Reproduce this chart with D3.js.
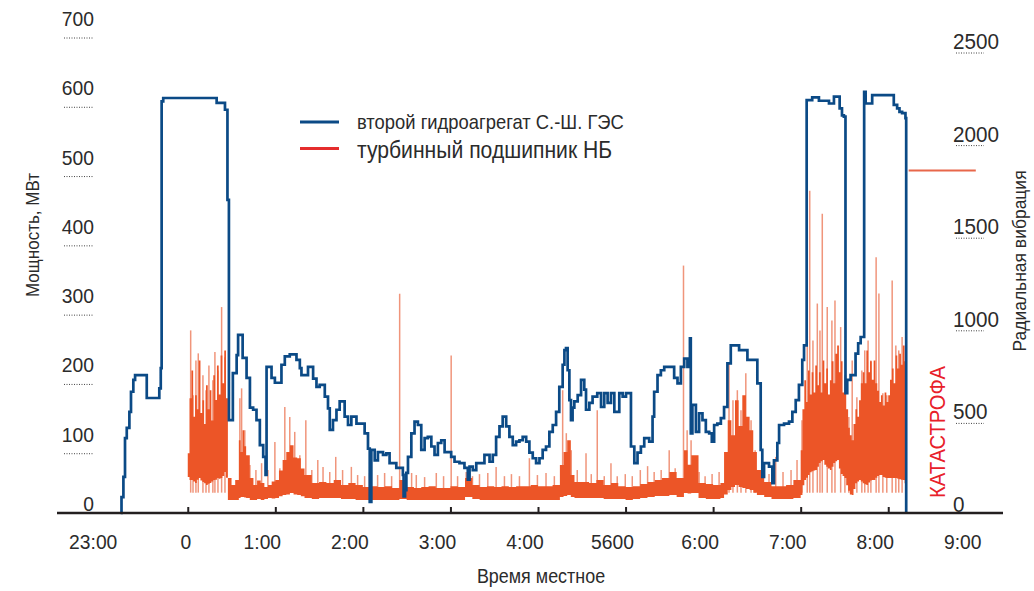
<!DOCTYPE html>
<html>
<head>
<meta charset="utf-8">
<script src="https://cdn.jsdelivr.net/npm/d3@7"></script>
<style>
body { margin: 0; background: #fff; }
text { font-family: "Liberation Sans", Arial, sans-serif; fill: #2b2b2b; }
</style>
</head>
<body>
<div id="chart"></div>
<script>
// time is in minutes from midnight (negative = before 0:00)

// unit 2 power, MW  [minute, MW] - step line
var powerSeries = [
  [-45.9,0],[-45.4,23],[-44.1,52],[-43.0,108],[-41.8,123],[-40.0,146],[-38.9,175],[-37.3,192],[-36.1,199],
  [-28.1,166],[-19.5,180],[-18.5,209],[-17.9,594],[-16.8,599],[19.8,592],[25.5,582],[27.2,452],[28.2,134],
  [30.9,202],[33.5,228],[34.5,257],[37.6,224],[40.3,195],[42.6,152],[44.8,149],[47.1,134],[49.4,98],[51.7,81],
  [53.3,55],[54.0,211],[57.4,195],[59.7,188],[64.2,214],[66.5,226],[69.9,229],[74.5,221],[76.8,209],[77.9,199],
  [82.4,211],[85.9,194],[88.2,182],[90.4,185],[93.9,168],[96.1,151],[97.3,120],[99.5,134],[101.9,149],[104.1,161],
  [107.5,139],[109.8,127],[112.1,139],[115.6,129],[121.2,115],[123.5,93],[124.7,16],[125.8,91],[128.1,76],
  [130.3,88],[133.8,84],[136.1,86],[138.3,72],[142.9,65],[147.4,55],[147.9,24],[148.9,33],[149.8,58],[150.9,81],
  [153.2,115],[155.4,132],[157.7,127],[160.0,91],[162.3,108],[164.5,110],[166.9,96],[169.1,84],[171.4,101],
  [173.7,105],[176.0,88],[180.5,81],[182.8,74],[186.2,72],[189.6,65],[191.9,48],[193.1,67],[195.3,62],[197.7,72],
  [203.3,84],[206.8,74],[209.0,84],[211.3,110],[213.6,125],[215.8,139],[218.2,125],[220.4,110],[222.7,98],
  [225.0,103],[227.3,105],[229.5,110],[231.9,103],[234.1,87],[236.4,79],[238.7,72],[241.0,79],[243.2,91],
  [245.5,96],[247.8,117],[250.1,127],[252.4,146],[254.6,182],[256.9,214],[258.1,235],[259.2,238],[260.3,206],
  [261.5,163],[262.6,134],[263.7,152],[264.9,161],[267.2,170],[269.5,192],[271.7,178],[272.9,149],[275.2,159],
  [277.4,168],[280.6,173],[283.2,153],[285.4,173],[287.7,159],[290.0,173],[292.3,146],[295.7,173],[298.0,168],
  [300.3,173],[303.7,96],[306.0,72],[308.2,87],[310.5,96],[312.8,108],[316.2,103],[318.5,139],[319.6,175],
  [321.9,199],[324.2,206],[326.5,211],[333.3,195],[335.6,187],[337.9,211],[340.2,223],[342.4,211],[344.1,252],
  [344.7,115],[345.8,156],[348.2,117],[350.4,144],[352.7,134],[355.0,117],[357.3,115],[359.1,103],[360.7,127],
  [362.9,129],[365.3,137],[367.5,153],[369.8,216],[372.1,242],[377.8,235],[383.5,221],[390.3,187],[392.6,91],
  [393.7,52],[394.9,72],[398.3,67],[400.6,43],[401.7,76],[404.0,101],[405.2,127],[408.6,129],[412.0,132],
  [414.3,146],[416.6,163],[418.8,185],[421.1,221],[422.3,242],[424.1,596],[427.9,600],[432.5,595],[439.4,591],
  [442.8,601],[446.7,584],[448.3,574],[449.6,572],[450.7,173],[451.9,192],[454.2,199],[457.6,230],[459.4,245],
  [461.1,254],[463.5,608],[464.5,591],[469.0,603],[483.8,589],[486.1,584],[487.7,579],[489.5,577],[491.8,570],
  [492.3,0]
];

// lower bearing radial vibration: dense band [minute, low, high]
var vibBand = [
  [0,194,323],[1.2,178,620],[2.5,178,770],[3.7,170,520],[5,162,636],[6.2,180,560],[7.5,189,824],[8.7,175,540],
  [10,167,609],[11.2,160,480],[12.5,151,690],[13.7,158,560],[15,162,663],[16.2,170,500],[17.5,178,744],
  [18.7,180,610],[20,189,797],[21.2,185,640],[22.5,189,851],[23.7,200,700],[25,221,878],[26.2,190,620],
  [27.5,70,189],[30,70,151],[32.5,70,178],[35,81,393],[36.2,86,330],[37.5,86,447],[38.7,84,360],
  [40,81,312],[42.5,70,189],[45,70,151],[47.5,75,175],[50,70,162],[52.5,75,140],[55,81,151],[57.5,78,170],
  [60,81,178],[62.5,90,230],[65,97,286],[67.5,100,330],[70,108,366],[72.5,100,300],[75,97,296],[77.5,90,240],
  [80,81,205],[85,75,162],[90,81,167],[95,81,162],[100,81,178],[105,75,151],[110,75,162],[115,70,151],[120,70,140],
  [125,70,145],[130,70,140],[135,70,145],[140,70,135],[145,75,178],[150,70,140],[155,70,135],[160,70,140],
  [165,70,145],[170,70,135],[175,70,135],[180,70,145],[185,70,140],[190,86,189],[195,75,151],[200,70,140],
  [205,70,145],[210,70,140],[215,70,145],[220,70,140],[225,70,145],[230,70,145],[235,70,151],[240,70,145],
  [245,70,145],[250,70,151],[255,86,259],[257.5,92,330],[260,97,393],[262.5,86,205],[265,81,167],[270,81,167],
  [275,81,162],[280,81,178],[285,75,151],[290,75,162],[295,75,145],[300,70,140],[305,75,145],[310,81,156],
  [315,86,167],[320,92,178],[325,92,189],[330,97,221],[335,86,189],[340,108,339],[342.5,105,260],[345,108,312],
  [350,81,162],[355,75,156],[360,75,151],[365,81,162],[367.5,100,330],[370,124,501],[372.5,140,420],[375,151,609],
  [377.5,140,470],[380,135,636],[382.5,130,520],[385,124,447],[387.5,110,330],[390,97,232],[395,86,167],
  [400,75,145],[405,75,145],[410,75,151],[415,81,178],[420,97,339],[421.2,150,560],[422.5,178,717],[423.7,190,600],
  [425,205,770],[426.2,220,640],[427.5,225,760],[428.7,230,650],[430,232,797],[431.2,250,690],[432.5,270,760],
  [433.7,280,650],[435,286,824],[436.2,260,700],[437.5,250,780],[438.7,240,640],[440,232,717],[441.2,250,820],
  [442.5,270,700],[443.7,280,860],[445,286,905],[446.2,240,760],[447.5,210,820],[448.7,200,650],[450,189,744],
  [451.2,150,560],[452.5,120,460],[453.7,100,420],[455,97,393],[456.2,130,480],[457.5,160,560],[458.7,170,520],
  [460,178,609],[461.2,170,700],[462.5,160,760],[463.7,155,700],[465,151,878],[466.2,165,760],[467.5,175,820],
  [468.7,178,720],[470,178,824],[471.2,190,700],[472.5,200,660],[473.7,205,600],[475,205,636],[476.2,195,580],
  [477.5,190,650],[478.7,189,600],[480,189,636],[481.2,189,720],[482.5,189,780],[483.7,189,700],[485,189,851],
  [486.2,185,780],[487.5,182,860],[488.7,180,800],[490,178,905],[491.2,160,820],[492,151,878]
];

// single peaks of vibration [minute, value]
var vibPeaks = [
  [2.0,986],[3.6,636],[5.6,824],[7.2,862],[10.4,744],[12.5,663],[14.5,797],[17.2,717],[18.6,869],[20.7,770],
  [23.2,1112],[25.5,841],[35.7,620],[36.9,673],[39.1,447],[42.6,259],[46.7,232],[50.6,269],[54.9,232],[59.7,384],
  [63.1,242],[66.5,573],[69.9,519],[73.3,438],[76.8,312],[80.9,501],[85.0,232],[89.1,286],[92.7,249],[97.3,221],
  [101.4,303],[106.1,232],[112.1,249],[116.4,205],[121.2,199],[124.6,216],[130.1,205],[134.9,216],[139.7,199],
  [145.2,1184],[149.3,199],[153.4,216],[156.6,205],[162.3,194],[170.3,216],[175.3,199],[180.5,851],[184.9,199],
  [190.8,221],[195.1,199],[199.9,210],[205.6,216],[211.3,249],[217.0,199],[221.8,210],[227.3,199],[234.1,296],
  [239.6,205],[245.5,216],[251.2,199],[256.9,663],[259.4,431],[262.8,339],[266.9,232],[272.9,323],[276.5,210],
  [280.6,555],[285.4,199],[290.0,269],[294.3,199],[299.8,210],[304.6,199],[310.1,232],[315.1,253],[319.6,221],
  [324.4,232],[329.9,339],[334.0,242],[339.7,1336],[342.2,447],[344.9,393],[350.4,221],[354.5,199],[359.3,210],
  [364.1,221],[370.9,808],[373.6,609],[376.6,663],[379.1,555],[382.4,754],[386.0,501],[388.8,339],[392.9,232],
  [398.3,210],[402.9,303],[407.9,221],[413.4,232],[417.5,286],[420.9,501],[424.5,986],[426.2,1740],[428.4,932],
  [431.4,1131],[433.2,986],[434.8,1616],[438.2,1112],[441.4,1040],[443.5,1148],[447.4,1004],[450.3,717],
  [453.0,519],[455.3,824],[458.5,625],[461.9,770],[463.9,878],[466.2,932],[468.1,824],[471.7,1381],[473.6,1185],
  [476.3,647],[479.0,636],[482.7,1255],[485.2,905],[487.2,878],[489.5,950]
];

// level of the sensor after the accident
var vibAfter = [[494,1850],[540,1850]];

var powerTicks = [0, 100, 200, 300, 400, 500, 600, 700];
var vibTicks = [0, 500, 1000, 1500, 2000, 2500];
var hourTicks = [0, 1, 2, 3, 4, 5, 6, 7, 8];
var hourLabelAt = [-1, 0, 1, 2, 3, 4, 5, 6, 7, 8, 9];
var hourLabels = ['23:00', '0', '1:00', '2:00', '3:00', '4:00', '5600', '6:00', '7:00', '8:00', '9:00'];

var BLUE = '#0b4a86', RED = '#ec5527';
var NARROW = 0.92; // horizontal squeeze, the original uses a condensed face

var svg = d3.select('#chart')
  .append('svg')
    .attr('width', 1034)
    .attr('height', 591);

svg.append('rect').attr('width', 1034).attr('height', 591).attr('fill', '#fff');

// condensed text placed at (x, y), optionally rotated
function label(parent, x, y, str, size, anchor, rot) {
  return parent.append('text')
    .attr('transform', 'translate(' + x + ',' + y + ')' + (rot ? ' rotate(' + rot + ')' : '') + ' scale(' + NARROW + ',1)')
    .attr('font-size', size + 'px')
    .attr('text-anchor', anchor || 'start')
    .text(str);
}

//Scales
var x = d3.scaleLinear().domain([-60, 540]).range([100.2, 975.8]);
var yP = d3.scaleLinear().domain([0, 700]).range([513, 28]);
var yV = d3.scaleLinear().domain([0, 2500]).range([513, 50]);

//Vibration band
var band = d3.area()
  .x(function(d){ return x(d[0]); })
  .y0(function(d){ return yV(d[1]); })
  .y1(function(d){ return yV(d[2]); })
  .curve(d3.curveStepAfter);

svg.append('g').selectAll('line')
  .data(vibPeaks)
  .enter().append('line')
    .attr('x1', function(d){ return x(d[0]); })
    .attr('x2', function(d){ return x(d[0]); })
    .attr('y1', yV(110))
    .attr('y2', function(d){ return yV(d[1]); })
    .attr('stroke', '#ec7a5a')
    .attr('stroke-opacity', 0.8)
    .attr('stroke-width', 1.5);

svg.append('path')
  .datum(vibBand)
  .attr('d', band)
  .attr('fill', RED);

svg.append('path')
  .datum(vibAfter)
  .attr('d', d3.line().x(function(d){ return x(d[0]); }).y(function(d){ return yV(d[1]); }))
  .attr('fill', 'none')
  .attr('stroke', '#e8674a')
  .attr('stroke-width', 2);

//Power line
var powerLine = d3.line()
  .x(function(d){ return x(d[0]); })
  .y(function(d){ return yP(d[1]); })
  .curve(d3.curveStepAfter);

svg.append('path')
  .datum(powerSeries)
  .attr('d', powerLine)
  .attr('fill', 'none')
  .attr('stroke', BLUE)
  .attr('stroke-width', 2.7);

//X axis
svg.append('line')
  .attr('x1', 57).attr('x2', 1003)
  .attr('y1', 513).attr('y2', 513)
  .attr('stroke', '#231f20')
  .attr('stroke-width', 2.5);

var xAxis = svg.append('g')
  .attr('transform', 'translate(0,513)')
  .call(d3.axisTop(x)
    .tickValues(hourTicks.map(function(h){ return h * 60; }))
    .tickSize(6)
    .tickFormat(''));
xAxis.select('.domain').remove();
xAxis.selectAll('.tick line').attr('stroke', '#231f20').attr('stroke-width', 2);

hourLabelAt.forEach(function(h, i){
  var shift = h === 0 ? -2 : (h === -1 ? -7 : -13);
  label(svg, x(h * 60) + shift, 549, hourLabels[i], 21, 'middle');
});

label(svg, 541, 583, 'Время местное', 19.5, 'middle');

//Left axis (power)
powerTicks.forEach(function(d){
  label(svg, 94, yP(d) - 2, d, 21, 'end');
});
svg.append('g').selectAll('line')
  .data(powerTicks.slice(1))
  .enter().append('line')
    .attr('x1', 64).attr('x2', 94)
    .attr('y1', function(d){ return yP(d) + 10; })
    .attr('y2', function(d){ return yP(d) + 10; })
    .attr('stroke', '#444')
    .attr('stroke-width', 1)
    .attr('stroke-dasharray', '1,1.5');

label(svg, 39, 235, 'Мощность, МВт', 18.5, 'middle', -90);

//Right axis (vibration)
vibTicks.forEach(function(d){
  label(svg, 953, yV(d) - 1, d, 22.5, 'start');
});
svg.append('g').selectAll('line')
  .data(vibTicks.slice(1))
  .enter().append('line')
    .attr('x1', 956).attr('x2', 984)
    .attr('y1', function(d){ return yV(d) + 3; })
    .attr('y2', function(d){ return yV(d) + 3; })
    .attr('stroke', '#444')
    .attr('stroke-width', 1)
    .attr('stroke-dasharray', '1,1.5');

label(svg, 1026, 261, 'Радиальная вибрация', 19, 'middle', -90);

label(svg, 945, 432, 'КАТАСТРОФА', 22, 'middle', -90)
  .style('fill', '#e8202a');

//Legend
var legend = [
  {color: BLUE, label: 'второй гидроагрегат С.-Ш. ГЭС', y: 122, size: 20, base: 128.5},
  {color: '#e52d2d', label: 'турбинный подшипник НБ', y: 148.5, size: 23, base: 158}
];
svg.append('g').selectAll('line')
  .data(legend)
  .enter().append('line')
    .attr('x1', 300).attr('x2', 339)
    .attr('y1', function(d){ return d.y; })
    .attr('y2', function(d){ return d.y; })
    .attr('stroke', function(d){ return d.color; })
    .attr('stroke-width', 3);
legend.forEach(function(d){
  label(svg, 357, d.base, d.label, d.size, 'start');
});
</script>
</body>
</html>
